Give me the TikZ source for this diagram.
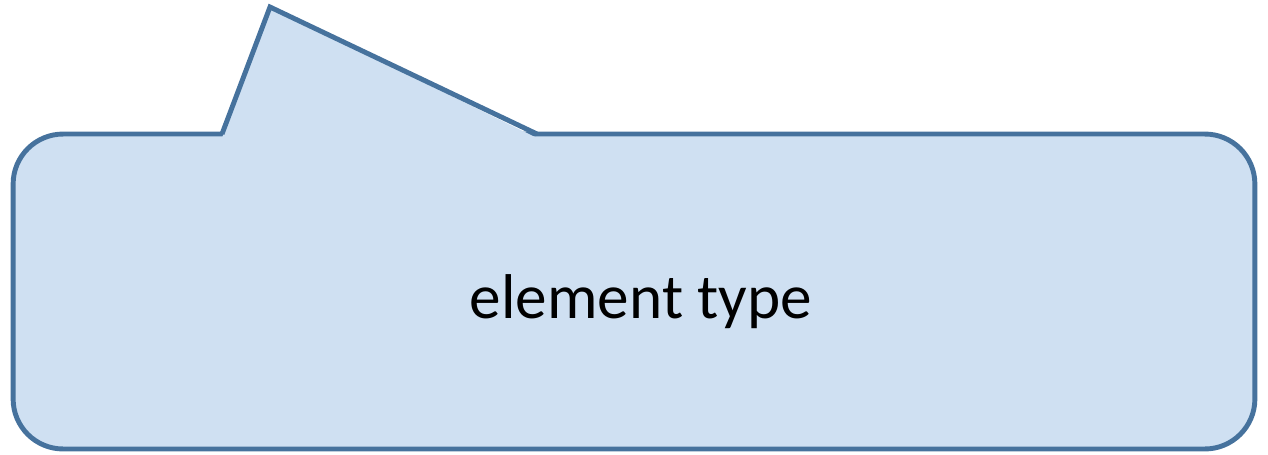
\documentclass[tikz,border=0pt]{standalone}
\usepackage{fontspec}
\setmainfont{Carlito}
\usepackage{tikz}
\usetikzlibrary{positioning, calc}

\definecolor{bubbleline}{RGB}{70,114,157}
\definecolor{bubblefill}{RGB}{207,224,242}

\begin{document}
\begin{tikzpicture}[
    x=0.02cm, y=-0.02cm,
    bubble/.style={draw=bubbleline, fill=bubblefill, line width=2.8pt,
        rounded corners=1cm, minimum width=24.84cm, minimum height=6.3cm},
    tip/.style={draw=bubbleline, line width=2.8pt, line join=miter}
]
\useasboundingbox (0,0) rectangle (1268,454);

% Sprechblase
\node[bubble] (box) at (634,291.5) {};
\coordinate (tipl) at (222,134);
\coordinate (tipt) at (270,7);
\coordinate (tipr) at (537,134);
\fill[bubblefill] ($(tipl)+(0,4)$) -- (tipt) -- ($(tipr)+(0,4)$) -- cycle;
\draw[tip] (tipl) -- (tipt) -- (tipr);

% Text
\node[font=\fontsize{36}{43}\selectfont] (type) at (641,302) {element type};

\end{tikzpicture}
\end{document}
